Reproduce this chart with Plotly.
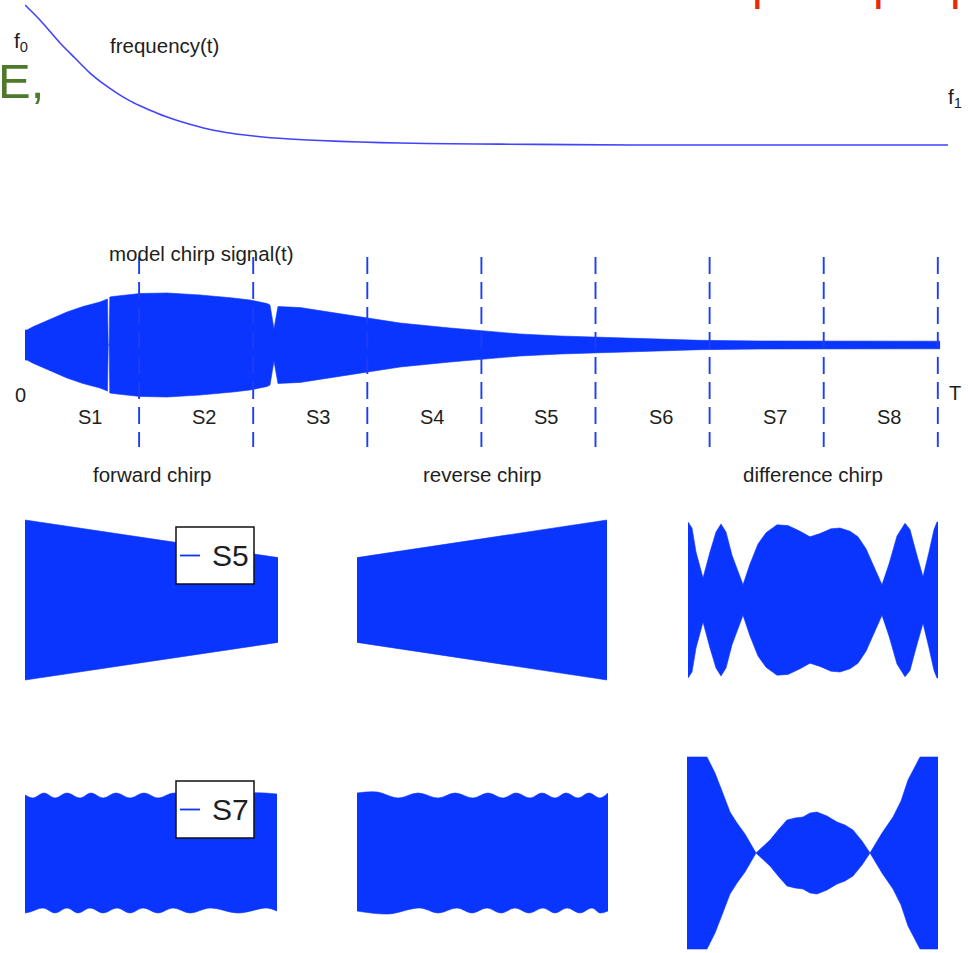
import plotly.graph_objects as go

# ---------------- data ----------------
# normalized instantaneous frequency: f0 -> 1, f1 -> 0 ; t in segment units (T = 8)
freq_t = [0.0, 0.018, 0.131, 0.307, 0.438, 0.570, 0.701, 0.806, 0.920, 1.008,
          1.096, 1.227, 1.385, 1.604, 1.823, 2.042, 2.261, 2.585, 2.935, 3.287,
          3.725, 4.163, 4.777, 5.390, 8.090]
freq_val = [1.0, 0.986, 0.893, 0.729, 0.621, 0.514, 0.429, 0.371, 0.315, 0.280,
            0.248, 0.205, 0.162, 0.114, 0.082, 0.061, 0.046, 0.032, 0.021, 0.014,
            0.009, 0.006, 0.003, 0.0, 0.0]

# envelope of the model chirp signal (peak amplitude) over t
sig_t = [0.0, 0.018, 0.070, 0.219, 0.368, 0.508, 0.657, 0.723, 0.729, 0.738,
         0.743, 0.771, 1.008, 1.245, 1.534, 1.823, 1.972, 2.121, 2.147, 2.182,
         2.217, 2.410, 2.699, 2.997, 3.287, 3.725, 4.014, 4.338, 4.689, 5.013,
         5.478, 5.916, 6.442, 7.230, 8.020]
sig_amp = [0.29, 0.29, 0.35, 0.50, 0.635, 0.74, 0.827, 0.885, 0.0, 0.0,
           0.923, 0.933, 0.99, 1.0, 0.962, 0.904, 0.865, 0.798, 0.77, 0.31,
           0.74, 0.72, 0.625, 0.529, 0.423, 0.327, 0.269, 0.212, 0.173, 0.154,
           0.115, 0.09, 0.077, 0.073, 0.073]

seg_names = ["S1", "S2", "S3", "S4", "S5", "S6", "S7", "S8"]
seg_bounds = [1, 2, 3, 4, 5, 6, 7, 8]

panel_titles = ["forward chirp", "reverse chirp", "difference chirp"]

# segment S5: envelopes over sample index
s5_fwd_n = [0, 253]
s5_fwd_amp = [1.0, 0.53]
s5_rev_n = [0, 250]
s5_rev_amp = [0.53, 1.0]
s5_diff_n = [0, 4, 8, 15, 22, 28, 33, 38, 44, 55, 62, 70, 78, 89, 100, 112,
             122, 132, 143, 152, 162, 170, 178, 186, 194, 201, 209, 217, 222,
             228, 235, 241, 246, 249, 250]
s5_diff_amp = [0.975, 0.90, 0.60, 0.275, 0.60, 0.85, 0.95, 0.85, 0.56, 0.19,
               0.45, 0.70, 0.84, 0.94, 0.93, 0.86, 0.79, 0.83, 0.89, 0.90,
               0.86, 0.79, 0.64, 0.42, 0.19, 0.45, 0.80, 0.96, 0.88, 0.60,
               0.29, 0.60, 0.88, 0.975, 0.975]

# segment S7: scalloped envelopes (upper / lower edge separately)
s7_fwd_top_n = [0, 8, 19, 30, 42, 55, 66, 78, 91, 105, 119, 133, 149, 165,
                184, 203, 225, 252]
s7_fwd_top = [0.58, 0.55, 0.60, 0.55, 0.60, 0.55, 0.60, 0.55, 0.60, 0.55,
              0.60, 0.55, 0.60, 0.55, 0.60, 0.55, 0.60, 0.59]
s7_fwd_bot_n = [0, 5, 18, 30, 42, 53, 65, 78, 92, 105, 118, 133, 148, 165,
                185, 213, 242, 252]
s7_fwd_bot = [0.60, 0.59, 0.55, 0.60, 0.55, 0.60, 0.55, 0.60, 0.55, 0.60,
              0.55, 0.60, 0.55, 0.60, 0.55, 0.60, 0.55, 0.58]
s7_rev_top_n = [0, 20, 41, 61, 81, 98, 116, 131, 146, 159, 173, 185, 198,
                209, 221, 232, 243, 251]
s7_rev_top = [0.60, 0.61, 0.55, 0.60, 0.55, 0.60, 0.55, 0.60, 0.55, 0.60,
              0.55, 0.60, 0.55, 0.60, 0.55, 0.60, 0.55, 0.60]
s7_rev_bot_n = [0, 31, 63, 81, 100, 115, 130, 144, 158, 172, 186, 198, 210,
                223, 235, 243, 251]
s7_rev_bot = [0.58, 0.61, 0.55, 0.60, 0.55, 0.60, 0.55, 0.60, 0.55, 0.60,
              0.55, 0.60, 0.55, 0.60, 0.55, 0.60, 0.58]
s7_diff_n = [0, 20, 24, 28, 35, 43, 50, 58, 69, 76, 83, 92, 100, 108, 116,
             123, 130, 140, 150, 158, 166, 175, 183, 189, 195, 206, 214, 221,
             228, 233, 251]
s7_diff_amp = [0.96, 0.96, 0.88, 0.80, 0.62, 0.41, 0.30, 0.19, 0.0, 0.07,
               0.13, 0.24, 0.33, 0.35, 0.36, 0.40, 0.41, 0.37, 0.31, 0.28,
               0.23, 0.12, 0.0, 0.10, 0.20, 0.36, 0.52, 0.73, 0.86, 0.96, 0.96]

# ---------------- styling ----------------
W, H = 968, 953
BLUE = "#0a35ff"
LINE_BLUE = "#4242ff"
DASH_BLUE = "#1f3ef2"
INK = "#1e1e1e"
FONT = "Liberation Sans, Arial, sans-serif"


def fx(p):
    return p / W


def fy(p):
    return 1 - p / H


fig = go.Figure()


def band(ax, xs_top, top, xs_bot, bot, shape="linear"):
    xa, ya = ("x", "y") if ax == 1 else (f"x{ax}", f"y{ax}")
    fig.add_trace(go.Scatter(
        x=xs_bot, y=[-v for v in bot], xaxis=xa, yaxis=ya, mode="lines",
        line=dict(width=0.6, color=BLUE, shape=shape),
        hoverinfo="skip", showlegend=False))
    fig.add_trace(go.Scatter(
        x=xs_top, y=top, xaxis=xa, yaxis=ya, mode="lines",
        line=dict(width=0.6, color=BLUE, shape=shape),
        fill="tonexty", fillcolor=BLUE, hoverinfo="skip", showlegend=False))


# frequency(t)
fig.add_trace(go.Scatter(x=freq_t, y=freq_val, mode="lines",
                         line=dict(color=LINE_BLUE, width=1.6, shape="spline", smoothing=0.8),
                         hoverinfo="skip", showlegend=False))
# model chirp signal
band(2, sig_t, sig_amp, sig_t, sig_amp)
# S5 row
band(3, s5_fwd_n, s5_fwd_amp, s5_fwd_n, s5_fwd_amp)
band(4, s5_rev_n, s5_rev_amp, s5_rev_n, s5_rev_amp)
band(5, s5_diff_n, s5_diff_amp, s5_diff_n, s5_diff_amp)
# S7 row
band(6, s7_fwd_top_n, s7_fwd_top, s7_fwd_bot_n, s7_fwd_bot, shape="spline")
band(7, s7_rev_top_n, s7_rev_top, s7_rev_bot_n, s7_rev_bot, shape="spline")
band(8, s7_diff_n, s7_diff_amp, s7_diff_n, s7_diff_amp)

# axes: (x pixel domain, x range, y pixel domain [top, bottom], y range)
axes = {
    1: ((25, 948), (0, 8.09), (0, 150), (-0.0357, 1.0357)),
    2: ((25, 945), (0, 8.063), (280, 410), (-1.25, 1.25)),
    3: ((25, 278), (0, 253), (510, 690), (-1.125, 1.125)),
    4: ((357, 607), (0, 250), (510, 690), (-1.125, 1.125)),
    5: ((688, 938), (0, 250), (510, 690), (-1.125, 1.125)),
    6: ((25, 277), (0, 252), (753, 953), (-1.0, 1.0)),
    7: ((357, 608), (0, 251), (753, 953), (-1.0, 1.0)),
    8: ((687, 938), (0, 251), (753, 953), (-1.0, 1.0)),
}
layout_axes = {}
for i, (xd, xr, yd, yr) in axes.items():
    sx = "" if i == 1 else str(i)
    layout_axes[f"xaxis{sx}"] = dict(domain=[fx(xd[0]), fx(xd[1])], range=list(xr),
                                     visible=False, fixedrange=True, anchor=f"y{sx}")
    layout_axes[f"yaxis{sx}"] = dict(domain=[fy(yd[1]), fy(yd[0])], range=list(yr),
                                     visible=False, fixedrange=True, anchor=f"x{sx}")

shapes = []
# segment boundaries
for b in seg_bounds:
    shapes.append(dict(type="line", xref="x2", yref="paper", x0=b, x1=b,
                       y0=fy(257), y1=fy(447),
                       line=dict(color=DASH_BLUE, width=1.9, dash="17px,8px")))

annotations = []


def label(text, x, y, size, color=INK, xanchor="center"):
    annotations.append(dict(text=text, x=fx(x), y=fy(y), xref="paper", yref="paper",
                            xanchor=xanchor, yanchor="middle", showarrow=False,
                            font=dict(family=FONT, size=size, color=color)))


# segment names
for name, b in zip(seg_names, seg_bounds):
    annotations.append(dict(text=name, x=b - 0.43, y=fy(417), xref="x2", yref="paper",
                            xanchor="center", yanchor="middle", showarrow=False,
                            font=dict(family=FONT, size=20, color=INK)))

label("f<sub>0</sub>", 21, 42, 21)
label("frequency(t)", 164, 45, 20.5)
label("f<sub>1</sub>", 955, 98, 21)
label("model chirp signal(t)", 201, 253, 20.5)
label("0", 20, 395, 20)
label("T", 955, 393, 20)
label(panel_titles[0], 152, 474, 20.5)
label(panel_titles[1], 482, 474, 20.5)
label(panel_titles[2], 813, 474, 20.5)

# overlaid slide text
label("E,", -4, 81, 49, color="#4d7a2a", xanchor="left")
for xl in (710, 831, 908):
    label("e p", xl, -17, 48, color="#e8290b", xanchor="left")

# legend boxes for the two segments
for name, top, bottom in (("S5", 527, 584), ("S7", 781, 838)):
    mid = (top + bottom) / 2
    shapes.append(dict(type="rect", xref="paper", yref="paper",
                       x0=fx(176), x1=fx(254), y0=fy(bottom), y1=fy(top),
                       line=dict(color="#111111", width=1.5), fillcolor="white", layer="above"))
    shapes.append(dict(type="line", xref="paper", yref="paper",
                       x0=fx(180), x1=fx(200), y0=fy(mid), y1=fy(mid),
                       line=dict(color=BLUE, width=1.8), layer="above"))
    label(name, 230, mid, 30)

fig.update_layout(
    width=W, height=H, margin=dict(l=0, r=0, t=0, b=0),
    paper_bgcolor="white", plot_bgcolor="white", showlegend=False,
    shapes=shapes, annotations=annotations, **layout_axes,
)

fig.write_html("out.html")
